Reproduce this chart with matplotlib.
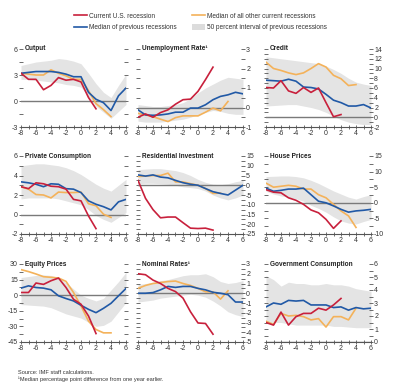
import numpy as np
import matplotlib
matplotlib.use("Agg")
import matplotlib.pyplot as plt
from matplotlib.lines import Line2D
from matplotlib.patches import Patch
from matplotlib.ticker import MultipleLocator

plt.rcParams['font.family'] = ['Liberation Sans', 'DejaVu Sans']
plt.rcParams['axes.unicode_minus'] = False

RED    = "#c8203c"
BLUE   = "#2159a6"
ORANGE = "#f4b25a"
BAND   = "#e4e4e4"
TEXT   = "#333333"

# quarters relative to the peak
quarters = list(range(-8, 7))

# ---------------------------------------------------------------------------
# Data
# ---------------------------------------------------------------------------
output_us     = [3.2, 2.5, 2.5, 1.3, 1.8, 2.7, 2.4, 2.5, 2.2, 0.4, -0.9]
output_other  = [3.2, 3.1, 3.0, 3.0, 3.6, 3.2, 2.9, 2.5, 2.5, 1.2, -0.3, -1.0, -1.8]
output_prev   = [3.2, 3.3, 3.4, 3.4, 3.4, 3.3, 3.1, 2.8, 2.8, 1.0, 0.2, -0.2, -1.1, 0.6, 1.5]
output_hi     = [4.1, 4.3, 4.5, 4.6, 4.7, 4.9, 4.8, 4.6, 4.3, 3.2, 2.0, 1.0, 0.4, 1.8, 3.1]
output_lo     = [2.5, 2.5, 2.4, 2.3, 2.2, 2.1, 1.9, 1.8, 1.6, 0.5, -0.6, -1.3, -2.0, -1.2, -0.4]

unemp_us      = [-0.5, -0.33, -0.5, -0.26, -0.12, 0.17, 0.4, 0.43, 0.83, 1.43, 2.07]
unemp_other   = [-0.3, -0.38, -0.47, -0.6, -0.72, -0.52, -0.43, -0.43, -0.43, -0.24, -0.03, -0.17, 0.31]
unemp_prev    = [-0.12, -0.38, -0.4, -0.38, -0.33, -0.24, -0.24, -0.03, -0.03, 0.14, 0.4, 0.57, 0.65, 0.78, 0.7]
unemp_hi      = [0.15, 0.1, 0.05, 0.05, 0.1, 0.15, 0.25, 0.45, 0.75, 1.0, 1.2, 1.4, 1.55, 1.5, 1.45]
unemp_lo      = [-0.7, -0.75, -0.75, -0.75, -0.7, -0.65, -0.6, -0.5, -0.35, -0.25, -0.15, -0.2, -0.3, -0.35, -0.35]

credit_us     = [6.1, 6.0, 7.5, 5.4, 4.9, 6.1, 5.1, 6.0, 3.0, 0.1, 0.55]
credit_other  = [11.3, 10.0, 9.6, 9.1, 8.75, 9.1, 10.0, 11.0, 10.3, 8.6, 7.9, 6.5, 6.7]
credit_prev   = [7.6, 7.5, 7.4, 7.8, 7.4, 6.2, 6.1, 5.8, 4.7, 3.5, 3.0, 2.3, 2.3, 2.6, 1.9]
credit_hi     = [12.4, 12.2, 12.0, 11.8, 11.6, 11.4, 11.2, 11.0, 10.5, 9.8, 9.0, 8.0, 7.2, 6.8, 6.5]
credit_lo     = [2.3, 2.4, 2.5, 2.6, 2.6, 2.3, 2.0, 1.6, 1.0, 0.2, -0.5, -1.0, -1.3, -1.5, -1.5]

cons_us       = [2.85, 2.65, 3.25, 3.15, 2.9, 2.85, 2.6, 1.55, 1.4, -0.15, -1.45]
cons_other    = [2.85, 2.6, 2.05, 2.0, 1.7, 2.3, 2.25, 2.25, 2.3, 1.1, 0.9, 0.03, -0.3]
cons_prev     = [3.35, 3.25, 3.1, 2.85, 3.15, 3.1, 2.65, 2.6, 2.25, 1.4, 1.05, 0.8, 0.47, 1.3, 1.55]
cons_hi       = [5.0, 5.1, 5.2, 5.2, 5.1, 5.0, 4.8, 4.5, 4.1, 3.6, 3.1, 2.7, 2.4, 3.0, 3.6]
cons_lo       = [1.6, 1.7, 1.7, 1.7, 1.7, 1.6, 1.4, 1.2, 1.0, 0.5, -0.1, -0.5, -0.8, -0.3, 0.2]

resid_us      = [2.5, -6.7, -12.5, -16.7, -16.3, -16.3, -19.2, -22.0, -22.2, -22.0, -23.0]
resid_other   = [4.5, 4.7, 5.0, 5.0, 6.2, 1.7, 1.7, 0.8, 0.0, -1.7, -4.2, -4.0]
resid_prev    = [5.3, 4.7, 5.3, 4.2, 3.8, 2.5, 1.3, 0.5, 0.0, -1.7, -3.3, -4.2, -5.0, -2.5, 0.0]
resid_hi      = [8.0, 8.3, 8.5, 8.5, 8.0, 7.5, 6.5, 5.0, 3.0, 1.5, 0.5, 0.3, 0.8, 1.8, 2.5]
resid_lo      = [0.8, 1.0, 1.0, 0.8, 0.5, 0.0, -0.8, -1.2, -1.7, -3.0, -5.0, -6.5, -7.5, -6.5, -5.0]

house_us      = [4.2, 3.4, 3.2, 1.6, 0.8, -0.5, -2.3, -3.2, -5.3, -8.2, -5.8]
house_other   = [6.3, 5.0, 5.3, 5.6, 5.3, 4.4, 4.4, 2.6, 1.6, -0.5, -2.6, -4.2, -7.9]
house_prev    = [4.7, 3.7, 4.0, 4.4, 4.4, 4.7, 2.6, 0.5, 0.0, -1.0, -2.1, -3.0, -2.6, -2.4, -2.1]
house_hi      = [8.4, 8.5, 8.6, 8.6, 8.4, 8.0, 7.2, 6.2, 5.0, 3.8, 2.8, 1.8, 1.2, 2.0, 2.6]
house_lo      = [3.7, 2.8, 2.2, 1.8, 1.3, 0.5, -0.8, -1.8, -3.0, -4.5, -5.8, -6.5, -6.8, -6.0, -5.3]

equity_us     = [2.6, 2.6, 11.7, 10.4, 13.9, 16.5, 7.4, -3.9, -8.7, -20.0, -36.9]
equity_other  = [24.6, 22.7, 20.4, 17.8, 17.2, 16.5, 13.3, 2.6, -10.4, -24.9, -33.0, -36.2, -36.2]
equity_prev   = [6.8, 9.0, 7.4, 6.8, 5.2, -0.6, -3.2, -5.5, -9.7, -13.6, -16.8, -12.6, -7.8, -0.6, 6.5]
equity_hi     = [17, 18, 19, 19.5, 19, 17, 12, 6, 0, -3, -5.5, -3, 5, 13, 22]
equity_lo     = [-9, -9.5, -10, -10.5, -12, -15, -18, -20, -22, -26, -30, -29, -25, -16, -7]

rates_us      = [2.0, 1.9, 1.35, 1.0, 0.5, 0.17, -0.5, -1.9, -3.05, -3.1, -4.2]
rates_other   = [0.5, 0.8, 1.0, 1.1, 1.2, 1.25, 1.0, 0.8, 0.5, 0.15, 0.15, -0.6, 0.25]
rates_prev    = [0.0, 0.0, 0.07, 0.35, 0.7, 0.6, 0.7, 0.7, 0.5, 0.35, 0.1, 0.0, -0.15, -0.9, -0.9]
rates_hi      = [0.9, 1.0, 1.1, 1.3, 1.4, 1.6, 1.8, 1.9, 1.9, 2.0, 1.7, 1.2, 1.0, 1.1, 1.3]
rates_lo      = [-0.9, -0.8, -0.7, -0.5, -0.4, -0.3, -0.2, -0.1, -0.2, -0.4, -0.8, -1.3, -1.9, -2.2, -2.4]

gov_us        = [1.5, 1.3, 2.3, 1.3, 1.95, 2.2, 2.2, 2.6, 2.45, 2.85, 3.35]
gov_other     = [1.6, 1.35, 2.2, 2.0, 2.05, 1.95, 1.7, 1.8, 1.15, 1.95, 1.95, 1.7, 2.6]
gov_prev      = [2.7, 3.0, 2.9, 3.2, 3.15, 3.2, 2.85, 2.85, 2.85, 2.65, 2.7, 2.45, 2.65, 2.55, 2.6]
gov_hi        = [5.1, 4.8, 4.3, 4.6, 4.5, 4.5, 4.4, 4.4, 4.5, 4.4, 4.4, 4.3, 4.1, 4.0, 3.9]
gov_lo        = [1.4, 1.5, 1.5, 1.4, 1.3, 1.3, 1.3, 1.3, 1.3, 1.2, 1.2, 1.15, 1.1, 1.1, 1.1]

# title, data, ylim, major step, label side
panels = [
    ("Output",                 (output_us, output_other, output_prev, output_hi, output_lo), (-3, 6),   3,  "left"),
    ("Unemployment Rate\u00b9", (unemp_us, unemp_other, unemp_prev, unemp_hi, unemp_lo),     (-1, 3),   1,  "right"),
    ("Credit",                 (credit_us, credit_other, credit_prev, credit_hi, credit_lo), (-2, 14),  2,  "right"),
    ("Private Consumption",    (cons_us, cons_other, cons_prev, cons_hi, cons_lo),           (-2, 6),   2,  "left"),
    ("Residential Investment", (resid_us, resid_other, resid_prev, resid_hi, resid_lo),      (-25, 15), 5,  "right"),
    ("House Prices",           (house_us, house_other, house_prev, house_hi, house_lo),      (-10, 15), 5,  "right"),
    ("Equity Prices",          (equity_us, equity_other, equity_prev, equity_hi, equity_lo), (-45, 30), 15, "left"),
    ("Nominal Rates\u00b9",     (rates_us, rates_other, rates_prev, rates_hi, rates_lo),      (-5, 3),   1,  "right"),
    ("Government Consumption", (gov_us, gov_other, gov_prev, gov_hi, gov_lo),                (0, 6),    1,  "right"),
]

# panel placement in pixels (figure is 400 x 389)
W, H = 400, 389
col_left = [21, 138, 266]
row_bottom = [262, 155, 47]
ax_w, ax_h = 105, 78


def draw_panel(ax, title, data, ylim, step, side):
    us, other, prev, hi, lo = data
    ax.fill_between(quarters, lo, hi, color=BAND, lw=0, zorder=1)
    ax.axhline(0, color="#7a7a7a", lw=1.0, zorder=2)
    ax.plot(quarters[:len(prev)], prev, color=BLUE, lw=1.2, zorder=4)
    ax.plot(quarters[:len(other)], other, color=ORANGE, lw=1.2, zorder=3)
    ax.plot(quarters[:len(us)], us, color=RED, lw=1.2, zorder=5)

    ax.set_xlim(-8, 6)
    ax.set_ylim(*ylim)
    ax.xaxis.set_major_locator(MultipleLocator(2))
    ax.xaxis.set_minor_locator(MultipleLocator(1))
    ax.yaxis.set_major_locator(MultipleLocator(step))
    ax.yaxis.set_minor_locator(MultipleLocator(step / 2))

    for s in ["top", "left", "right"]:
        ax.spines[s].set_visible(False)
    ax.spines["bottom"].set_color("#555555")
    ax.spines["bottom"].set_linewidth(0.8)

    ax.tick_params(axis="x", which="both", direction="inout", length=3,
                   width=0.6, color="#555555", labelsize=5.0, labelcolor=TEXT, pad=1)
    ax.tick_params(axis="y", which="both", direction="inout", length=2.5,
                   width=0.6, color="#555555", labelsize=5.0, labelcolor=TEXT, pad=1,
                   left=True, right=True,
                   labelleft=(side == "left"), labelright=(side == "right"))

    ax.text(0.04, 1.0, title, transform=ax.transAxes, ha="left", va="center",
            fontsize=4.7, fontweight="bold", color="#222222")


fig = plt.figure(figsize=(W / 100, H / 100), dpi=100)
fig.patch.set_facecolor("white")

for i, (title, data, ylim, step, side) in enumerate(panels):
    r, c = divmod(i, 3)
    ax = fig.add_axes([col_left[c] / W, row_bottom[r] / H, ax_w / W, ax_h / H])
    draw_panel(ax, title, data, ylim, step, side)

# legend: two columns placed where the original has them
leg_kw = dict(loc="upper left", frameon=False, fontsize=4.7, handlelength=2.0,
              handleheight=0.9, handletextpad=0.35, labelspacing=0.75,
              borderpad=0, borderaxespad=0, labelcolor=TEXT)
fig.legend([Line2D([], [], color=RED, lw=1.2), Line2D([], [], color=BLUE, lw=1.2)],
           ["Current U.S. recession", "Median of previous recessions"],
           bbox_to_anchor=(74 / W, 1 - 12.5 / H), **leg_kw)
fig.legend([Line2D([], [], color=ORANGE, lw=1.2), Patch(facecolor="#dcdcdc", edgecolor="none")],
           ["Median of all other current recessions", "50 percent interval of previous recessions"],
           bbox_to_anchor=(192 / W, 1 - 12.5 / H), **leg_kw)

fig.text(18 / W, 1 - 372 / H, "Source: IMF staff calculations.",
         fontsize=4.1, color=TEXT, va="center")
fig.text(18 / W, 1 - 379.5 / H, "\u00b9Median percentage point difference from one year earlier.",
         fontsize=4.1, color=TEXT, va="center")

fig.savefig("out.png", dpi=100, facecolor="white")
